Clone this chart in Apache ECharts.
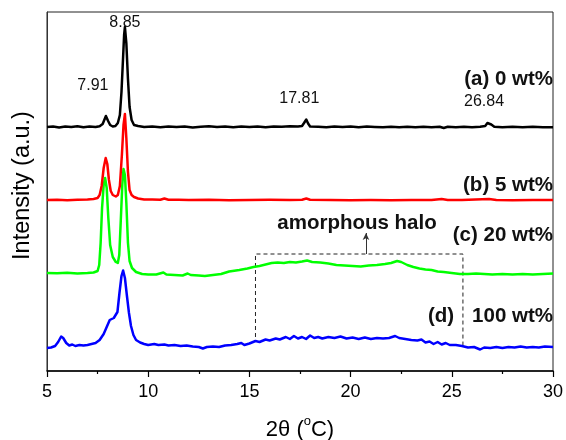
<!DOCTYPE html>
<html>
<head>
<meta charset="utf-8">
<script src="https://cdn.jsdelivr.net/npm/echarts@6/dist/echarts.min.js"></script>
<style>
  html, body { margin: 0; padding: 0; background: #fff; }
  #chart { width: 566px; height: 440px; }
</style>
</head>
<body>
<div id="chart"></div>
<script>
// XRD patterns: [2θ (deg), intensity above own baseline (a.u.)]
const pattern0wt = [[5.0,0],[5.3,0.5],[5.6,-0.5],[5.9,0.5],[6.2,0],[6.5,0.8],[6.8,-0.3],[7.1,0.5],[7.4,0],[7.6,0.8],[7.75,3],[7.85,8],[7.91,11],[8.02,6],[8.12,2],[8.25,0.5],[8.38,1],[8.5,4],[8.6,12],[8.68,35],[8.76,70],[8.81,92],[8.85,100],[8.92,84],[9.0,48],[9.08,20],[9.18,7],[9.3,2],[9.5,1],[9.8,0],[10.2,0.5],[10.6,-0.3],[11.0,0.6],[11.4,0],[11.8,0.5],[12.2,-0.5],[12.6,0.3],[13.0,0.8],[13.4,0],[13.8,0.5],[14.2,-0.3],[14.6,0.5],[15.0,0],[15.4,0.6],[15.8,-0.2],[16.2,0.5],[16.6,0.3],[17.0,0.8],[17.4,0.4],[17.6,1],[17.7,4],[17.81,7.5],[17.9,3.5],[18.0,0.5],[18.4,0.3],[18.8,-0.3],[19.2,0.5],[19.6,0],[20.0,0.4],[20.4,-0.2],[20.8,0.4],[21.2,0],[21.6,-0.3],[22.0,0.3],[22.4,-0.2],[22.8,0.3],[23.2,-0.3],[23.6,0.2],[24.0,-0.2],[24.4,0.3],[24.6,-1],[24.8,0.2],[25.2,-0.3],[25.6,0.2],[26.0,-0.2],[26.4,0.3],[26.65,1],[26.76,4],[26.84,5],[26.95,2.5],[27.1,0.3],[27.5,-0.3],[28.0,0.2],[28.5,-0.2],[29.0,0.3],[29.5,-0.3],[30.0,-0.2]];
const pattern5wt = [[5.0,0],[5.5,0.3],[6.0,-0.2],[6.5,0.3],[7.0,0.5],[7.3,1],[7.5,2],[7.6,5],[7.7,14],[7.8,32],[7.9,42],[7.98,36],[8.06,20],[8.15,9],[8.25,5],[8.4,3.5],[8.5,5],[8.6,14],[8.7,45],[8.78,75],[8.85,86],[8.92,62],[9.0,28],[9.08,10],[9.18,5],[9.3,3],[9.5,1.5],[9.8,0.5],[10.2,0.5],[10.6,0.2],[10.8,1.5],[11.0,0.3],[11.5,0.2],[12.0,0],[13.0,0.2],[14.0,-0.3],[15.0,0],[16.0,0.2],[17.0,0],[17.6,0.3],[17.81,1.5],[18.0,0.2],[19.0,0],[20.0,-0.2],[21.0,0],[22.0,-0.2],[23.0,0],[24.0,0],[24.5,1],[24.8,0],[25.5,0],[26.84,1],[27.2,0],[28.0,-0.2],[29.0,0],[30.0,0]];
const pattern20wt = [[5.0,0],[5.5,-0.3],[6.0,0.3],[6.5,-0.5],[7.0,0],[7.3,0.5],[7.5,2],[7.58,8],[7.65,30],[7.72,65],[7.8,88],[7.87,95],[7.95,85],[8.03,55],[8.12,28],[8.25,16],[8.4,11],[8.5,10],[8.57,18],[8.64,50],[8.72,88],[8.78,104],[8.85,98],[8.92,70],[9.0,30],[9.08,12],[9.2,5],[9.4,1],[9.7,-1],[10.0,-1.5],[10.4,-1.5],[10.75,0.5],[10.9,-1.5],[11.3,-2],[11.7,-2.5],[11.95,-0.5],[12.1,-2],[12.5,-2.5],[12.8,-3],[13.2,-2],[13.6,-1],[14.0,1.5],[14.5,3],[14.9,4.5],[15.2,6],[15.5,7],[15.8,8.5],[16.1,10],[16.4,10.5],[16.7,10],[17.0,11],[17.3,10.5],[17.6,11.5],[17.85,12.5],[18.1,11],[18.5,10.5],[18.9,9.5],[19.3,8],[19.7,7.5],[20.1,7],[20.5,6.5],[20.9,7.5],[21.3,8],[21.7,9],[22.0,10],[22.3,12],[22.5,11],[22.8,8],[23.1,6],[23.4,4.5],[23.7,3.5],[24.0,3],[24.3,1.5],[24.6,1],[25.0,0],[25.4,-1],[25.8,-1],[26.2,-0.5],[26.6,-1],[27.0,-1.5],[27.5,-1],[28.0,-1.5],[28.5,-1],[29.0,-1.5],[29.5,-1],[30.0,-0.5]];
const pattern100wt = [[5.0,0],[5.2,0.5],[5.4,2],[5.55,6],[5.7,11.5],[5.8,10],[5.95,5],[6.1,2.5],[6.25,3.5],[6.4,2],[6.6,3],[6.8,2.5],[7.0,3],[7.2,4],[7.4,5],[7.6,8],[7.8,14],[7.95,21],[8.1,28],[8.2,29],[8.3,30],[8.38,28],[8.48,36],[8.58,55],[8.68,72],[8.76,77.5],[8.85,70],[8.95,52],[9.05,35],[9.15,22],[9.27,13],[9.4,8],[9.6,5.5],[9.8,4],[10.0,3],[10.3,4],[10.5,3],[10.8,3.5],[11.0,2.5],[11.3,3],[11.6,2],[11.9,2.5],[12.2,1.5],[12.5,1],[12.7,-0.5],[12.9,1],[13.2,1.5],[13.5,1],[13.8,2.5],[14.1,3],[14.4,4],[14.6,5],[14.75,3],[15.0,4.5],[15.3,7],[15.5,6],[15.8,8.5],[16.0,7.5],[16.3,9.5],[16.5,8.5],[16.8,11],[17.0,9],[17.2,12],[17.4,9.5],[17.6,11],[17.8,9],[18.0,12.5],[18.2,10],[18.4,11],[18.6,9.5],[18.9,11],[19.2,10],[19.5,11.5],[19.8,9.5],[20.1,10.5],[20.4,9],[20.7,10.5],[21.0,9],[21.3,10],[21.6,9.5],[21.9,10],[22.2,12],[22.4,10],[22.7,9],[23.0,8],[23.3,7.5],[23.5,8.5],[23.7,5.5],[23.9,6.5],[24.1,4],[24.3,6],[24.5,3.5],[24.7,5],[24.9,3],[25.2,3],[25.5,2],[25.8,0.5],[26.1,1],[26.4,-1.5],[26.6,0.5],[26.9,0],[27.2,1],[27.5,0],[27.8,1],[28.1,0.5],[28.4,1.5],[28.7,0.5],[29.0,1],[29.3,0.5],[29.6,1.5],[30.0,1]];

// vertical stacking offsets for each pattern
const offsets = [244, 171, 98, 23];
const sampleLabels = ['(a) 0 wt%', '(b) 5 wt%', '(c) 20 wt%', '100 wt%'];
const peakLabels = [7.91, 8.85, 17.81, 26.84];
const xTicks = [5, 10, 15, 20, 25, 30];
const haloRange = [15.3, 25.55];
const haloLevel = 117;
const haloArrowTop = 138;

const FONT = 'Arial, "Liberation Sans", Helvetica, sans-serif';
const BOLD = 'bold 20.5px ' + FONT;

function shift(pattern, off) {
  return pattern.map(p => [p[0], p[1] + off]);
}
function intensityAt(pattern, x) {
  const p = pattern.find(q => Math.abs(q[0] - x) < 1e-6);
  return p ? p[1] : 0;
}

const peakOffsets = { 7.91: [-13, -30], 8.85: [0, -4], 17.81: [-7, -21], 26.84: [-5, -20] };
const peakMarks = peakLabels.map(x => ({
  coord: [x, intensityAt(pattern0wt, x) + offsets[0]],
  label: { formatter: x.toFixed(2), offset: peakOffsets[x] }
}));

const chart = echarts.init(document.getElementById('chart'), null, { renderer: 'canvas' });

const lineStyle = w => ({ width: w, join: 'round' });

chart.setOption({
  animation: false,
  backgroundColor: '#fff',
  grid: {
    left: 47, right: 13, top: 12, bottom: 69,
    outerBoundsMode: 'none', containLabel: false,
    show: true, borderColor: '#222', borderWidth: 1
  },
  xAxis: {
    type: 'value', min: 5, max: 30, interval: 5,
    name: '2θ ({sup|o}C)', nameLocation: 'middle', nameGap: 44,
    nameTextStyle: {
      fontSize: 22, color: '#000', fontFamily: FONT,
      rich: { sup: { fontSize: 13, color: '#000', fontFamily: FONT, padding: [0, 0, 16, 0] } }
    },
    axisLine: { show: true, lineStyle: { color: '#000', width: 1.5 } },
    axisTick: { show: true, inside: false, length: 6, lineStyle: { color: '#000', width: 1.2 } },
    minorTick: { show: true, splitNumber: 2, length: 3, lineStyle: { color: '#000', width: 1.2 } },
    axisLabel: {
      fontSize: 18, color: '#000', fontFamily: FONT, margin: 12,
      formatter: v => (xTicks.includes(v) ? String(v) : '')
    },
    splitLine: { show: false }
  },
  yAxis: {
    type: 'value', min: 0, max: 359,
    name: 'Intensity (a.u.)', nameLocation: 'middle', nameGap: 12,
    nameTextStyle: { fontSize: 23.5, color: '#000', fontFamily: FONT, padding: [0, 0, 0, 12] },
    axisLine: { show: true, lineStyle: { color: '#333', width: 1 } },
    axisTick: { show: false },
    axisLabel: { show: false },
    splitLine: { show: false }
  },
  series: [
    {
      name: sampleLabels[0], type: 'line', showSymbol: false, smooth: false,
      data: shift(pattern0wt, offsets[0]),
      lineStyle: lineStyle(2.5), itemStyle: { color: '#000000' },
      markPoint: {
        symbol: 'circle', symbolSize: 0, silent: true,
        label: { show: true, position: 'inside', color: '#111', fontSize: 16, fontFamily: FONT },
        data: peakMarks
      },
      z: 5
    },
    {
      name: sampleLabels[1], type: 'line', showSymbol: false,
      data: shift(pattern5wt, offsets[1]),
      lineStyle: lineStyle(2.5), itemStyle: { color: '#ff0000' }, z: 4
    },
    {
      name: sampleLabels[2], type: 'line', showSymbol: false,
      data: shift(pattern20wt, offsets[2]),
      lineStyle: lineStyle(2.5), itemStyle: { color: '#00ff00' }, z: 3
    },
    {
      name: sampleLabels[3], type: 'line', showSymbol: false,
      data: shift(pattern100wt, offsets[3]),
      lineStyle: lineStyle(2.5), itemStyle: { color: '#0000ff' }, z: 2
    },
    {
      // dashed outline around the amorphous halo region
      name: 'halo', type: 'line', showSymbol: false, silent: true,
      data: [
        [haloRange[0], offsets[3] + 11],
        [haloRange[0], haloLevel],
        [haloRange[1], haloLevel],
        [haloRange[1], offsets[3] + 3]
      ],
      lineStyle: { color: '#222', width: 1, type: [4, 3] },
      itemStyle: { color: '#222' },
      markLine: {
        silent: true, symbol: ['none', 'arrow'], symbolSize: [5, 7],
        label: { show: false },
        lineStyle: { color: '#333', width: 1, type: 'solid' },
        data: [[{ coord: [20.76, haloLevel] }, { coord: [20.76, haloArrowTop] }]]
      },
      z: 1
    }
  ],
  graphic: [
    { type: 'text', x: 553, y: 79, style: { text: sampleLabels[0], align: 'right', verticalAlign: 'middle', font: BOLD, fill: '#111' } },
    { type: 'text', x: 553, y: 185, style: { text: sampleLabels[1], align: 'right', verticalAlign: 'middle', font: BOLD, fill: '#111' } },
    { type: 'text', x: 553, y: 235, style: { text: sampleLabels[2], align: 'right', verticalAlign: 'middle', font: BOLD, fill: '#111' } },
    { type: 'text', x: 441, y: 316, style: { text: '(d)', align: 'center', verticalAlign: 'middle', font: BOLD, fill: '#111' } },
    { type: 'text', x: 553, y: 316, style: { text: sampleLabels[3], align: 'right', verticalAlign: 'middle', font: BOLD, fill: '#111' } },
    { type: 'text', x: 357, y: 223, style: { text: 'amorphous halo', align: 'center', verticalAlign: 'middle', font: BOLD, fill: '#111' } }
  ]
});
</script>
</body>
</html>
